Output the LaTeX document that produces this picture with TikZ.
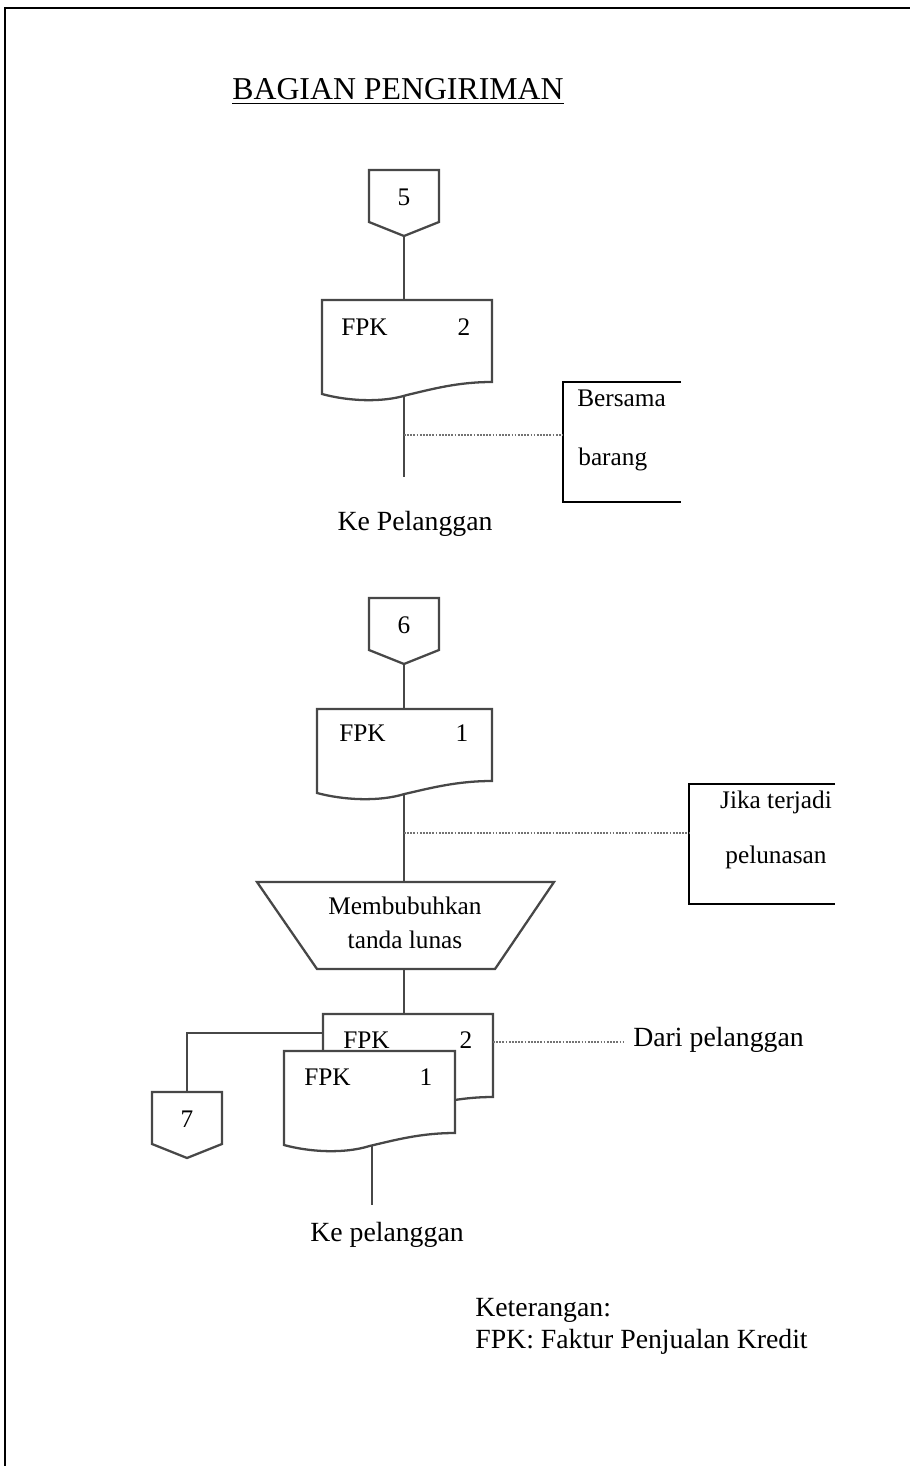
\documentclass[tikz,border=0pt]{standalone}
\usepackage{fontspec}
\setmainfont{Liberation Serif}
\newcommand\DocShp[5]{%
  \begin{scope}[shift={(#2,#3)}]
    \draw[ln,fill=white] (0,0) -- (#4,0) -- (#4,#5)
      .. controls ({0.8*#4},#5) and ({0.65*#4},{#5+7}) .. ({0.5*#4},{#5+13})
      .. controls ({0.35*#4},{#5+21}) and ({0.15*#4},{#5+19}) .. (0,{#5+12}) -- cycle;
    \coordinate (#1-n) at ({0.5*#4},0);
    \coordinate (#1-s) at ({0.5*#4},{#5+13});
    \coordinate (#1-w) at (0,19);
    \coordinate (#1-e) at (#4,28);
  \end{scope}}
\newcommand\OffPg[4]{%
  \draw[ln,fill=white] ({#2-35},#3) -- ({#2+35},#3) -- ({#2+35},{#3+52}) -- (#2,{#3+66}) -- ({#2-35},{#3+52}) -- cycle;
  \node[bx] (#1) at (#2,{#3+27}) {#4};
  \coordinate (#1-n) at (#2,#3);
  \coordinate (#1-s) at (#2,{#3+66});}
\begin{document}
\begin{tikzpicture}[x=0.02cm,y=-0.02cm,
  ln/.style={line width=1.3pt, draw=black!72},
  annot/.style={line width=1.2pt, draw=black},
  dotln/.style={line width=0.7pt, draw=black!55, dash pattern=on 1pt off 0.8pt},
  bx/.style={font=\fontsize{14.4}{19.3}\selectfont, inner sep=0pt},
  lbl/.style={font=\fontsize{15.8}{19}\selectfont, inner sep=0pt},
  ttl/.style={font=\fontsize{18.1}{22}\selectfont, inner sep=0pt}]
\useasboundingbox (0,0) rectangle (910,1466);
\draw[line width=1.2pt] (5,1466) -- (5,8) -- (910,8);

% title
\node[ttl, anchor=base west] (title) at (232,100) {BAGIAN PENGIRIMAN};
\draw[line width=1.1pt] ([yshift=-2pt]title.base west) -- ([yshift=-2pt]title.base east);

% ---------- group 1
\OffPg{c5}{404}{170}{5}
\DocShp{d1}{322}{300}{170}{82}
\node[bx, anchor=west] (d1a) at (341,327) {FPK};
\node[bx] (d1b) at (464,327) {2};
\draw[ln] (c5-s) -- (c5-s |- d1-n);
\coordinate (e1) at (404,477);
\draw[ln] (e1 |- d1-s) -- (e1);
\draw[annot] (681,382) -- (563,382) -- (563,502) -- (681,502);
\coordinate (a1-w) at (563,435);
\coordinate (j1) at (404,435);
\draw[dotln] (j1) -- (a1-w);
\node[bx, anchor=west] (a1t) at (577,398) {Bersama};
\node[bx, anchor=west] (a1b) at (578,459) {barang};
\node[lbl] (k1) at (415,524) {Ke Pelanggan};

% ---------- group 2
\OffPg{c6}{404}{598}{6}
\DocShp{d2}{317}{709}{175}{72}
\node[bx, anchor=west] (d2a) at (339,733) {FPK};
\node[bx] (d2b) at (462,733) {1};
\draw[ln] (c6-s) -- (c6-s |- d2-n);
\draw[ln] (257,882) -- (554,882) -- (495,969) -- (317,969) -- cycle;
\node[bx, align=center] (t1) at (405,923) {Membubuhkan\\tanda lunas};
\coordinate (t1-n) at (404,882);
\coordinate (t1-s) at (404,969);
\draw[ln] (t1-n |- d2-s) -- (t1-n);
\draw[annot] (835,784) -- (689,784) -- (689,904) -- (835,904);
\coordinate (a2-w) at (689,833);
\coordinate (j2) at (404,833);
\draw[dotln] (j2) -- (a2-w);
\node[bx] (a2t) at (776,802) {Jika terjadi};
\node[bx] (a2b) at (776,857) {pelunasan};

% ---------- group 3
\DocShp{d3}{323}{1014}{170}{83}
\node[bx, anchor=west] (d3a) at (343,1040) {FPK};
\node[bx] (d3b) at (466,1040) {2};
\DocShp{d4}{284}{1051}{171}{82}
\node[bx, anchor=west] (d4a) at (304,1077) {FPK};
\node[bx] (d4b) at (426,1077) {1};
\draw[ln] (t1-s) -- (t1-s |- d3-n);
\OffPg{c7}{187}{1092}{7}
\draw[ln] (d3-w) -| (c7-n);
\coordinate (e2) at (372,1205);
\draw[ln] (e2 |- d4-s) -- (e2);
\node[lbl] (k2) at (387,1235) {Ke pelanggan};
\coordinate (dpe) at (623,1042);
\draw[dotln] (d3-e) -- (dpe);
\node[lbl, anchor=west] (dp) at (633,1040) {Dari pelanggan};

% ---------- legend
\node[lbl, anchor=west] (ket) at (475,1310) {Keterangan:};
\node[lbl, anchor=west] (fpk) at (475,1342) {FPK: Faktur Penjualan Kredit};
\end{tikzpicture}
\end{document}
